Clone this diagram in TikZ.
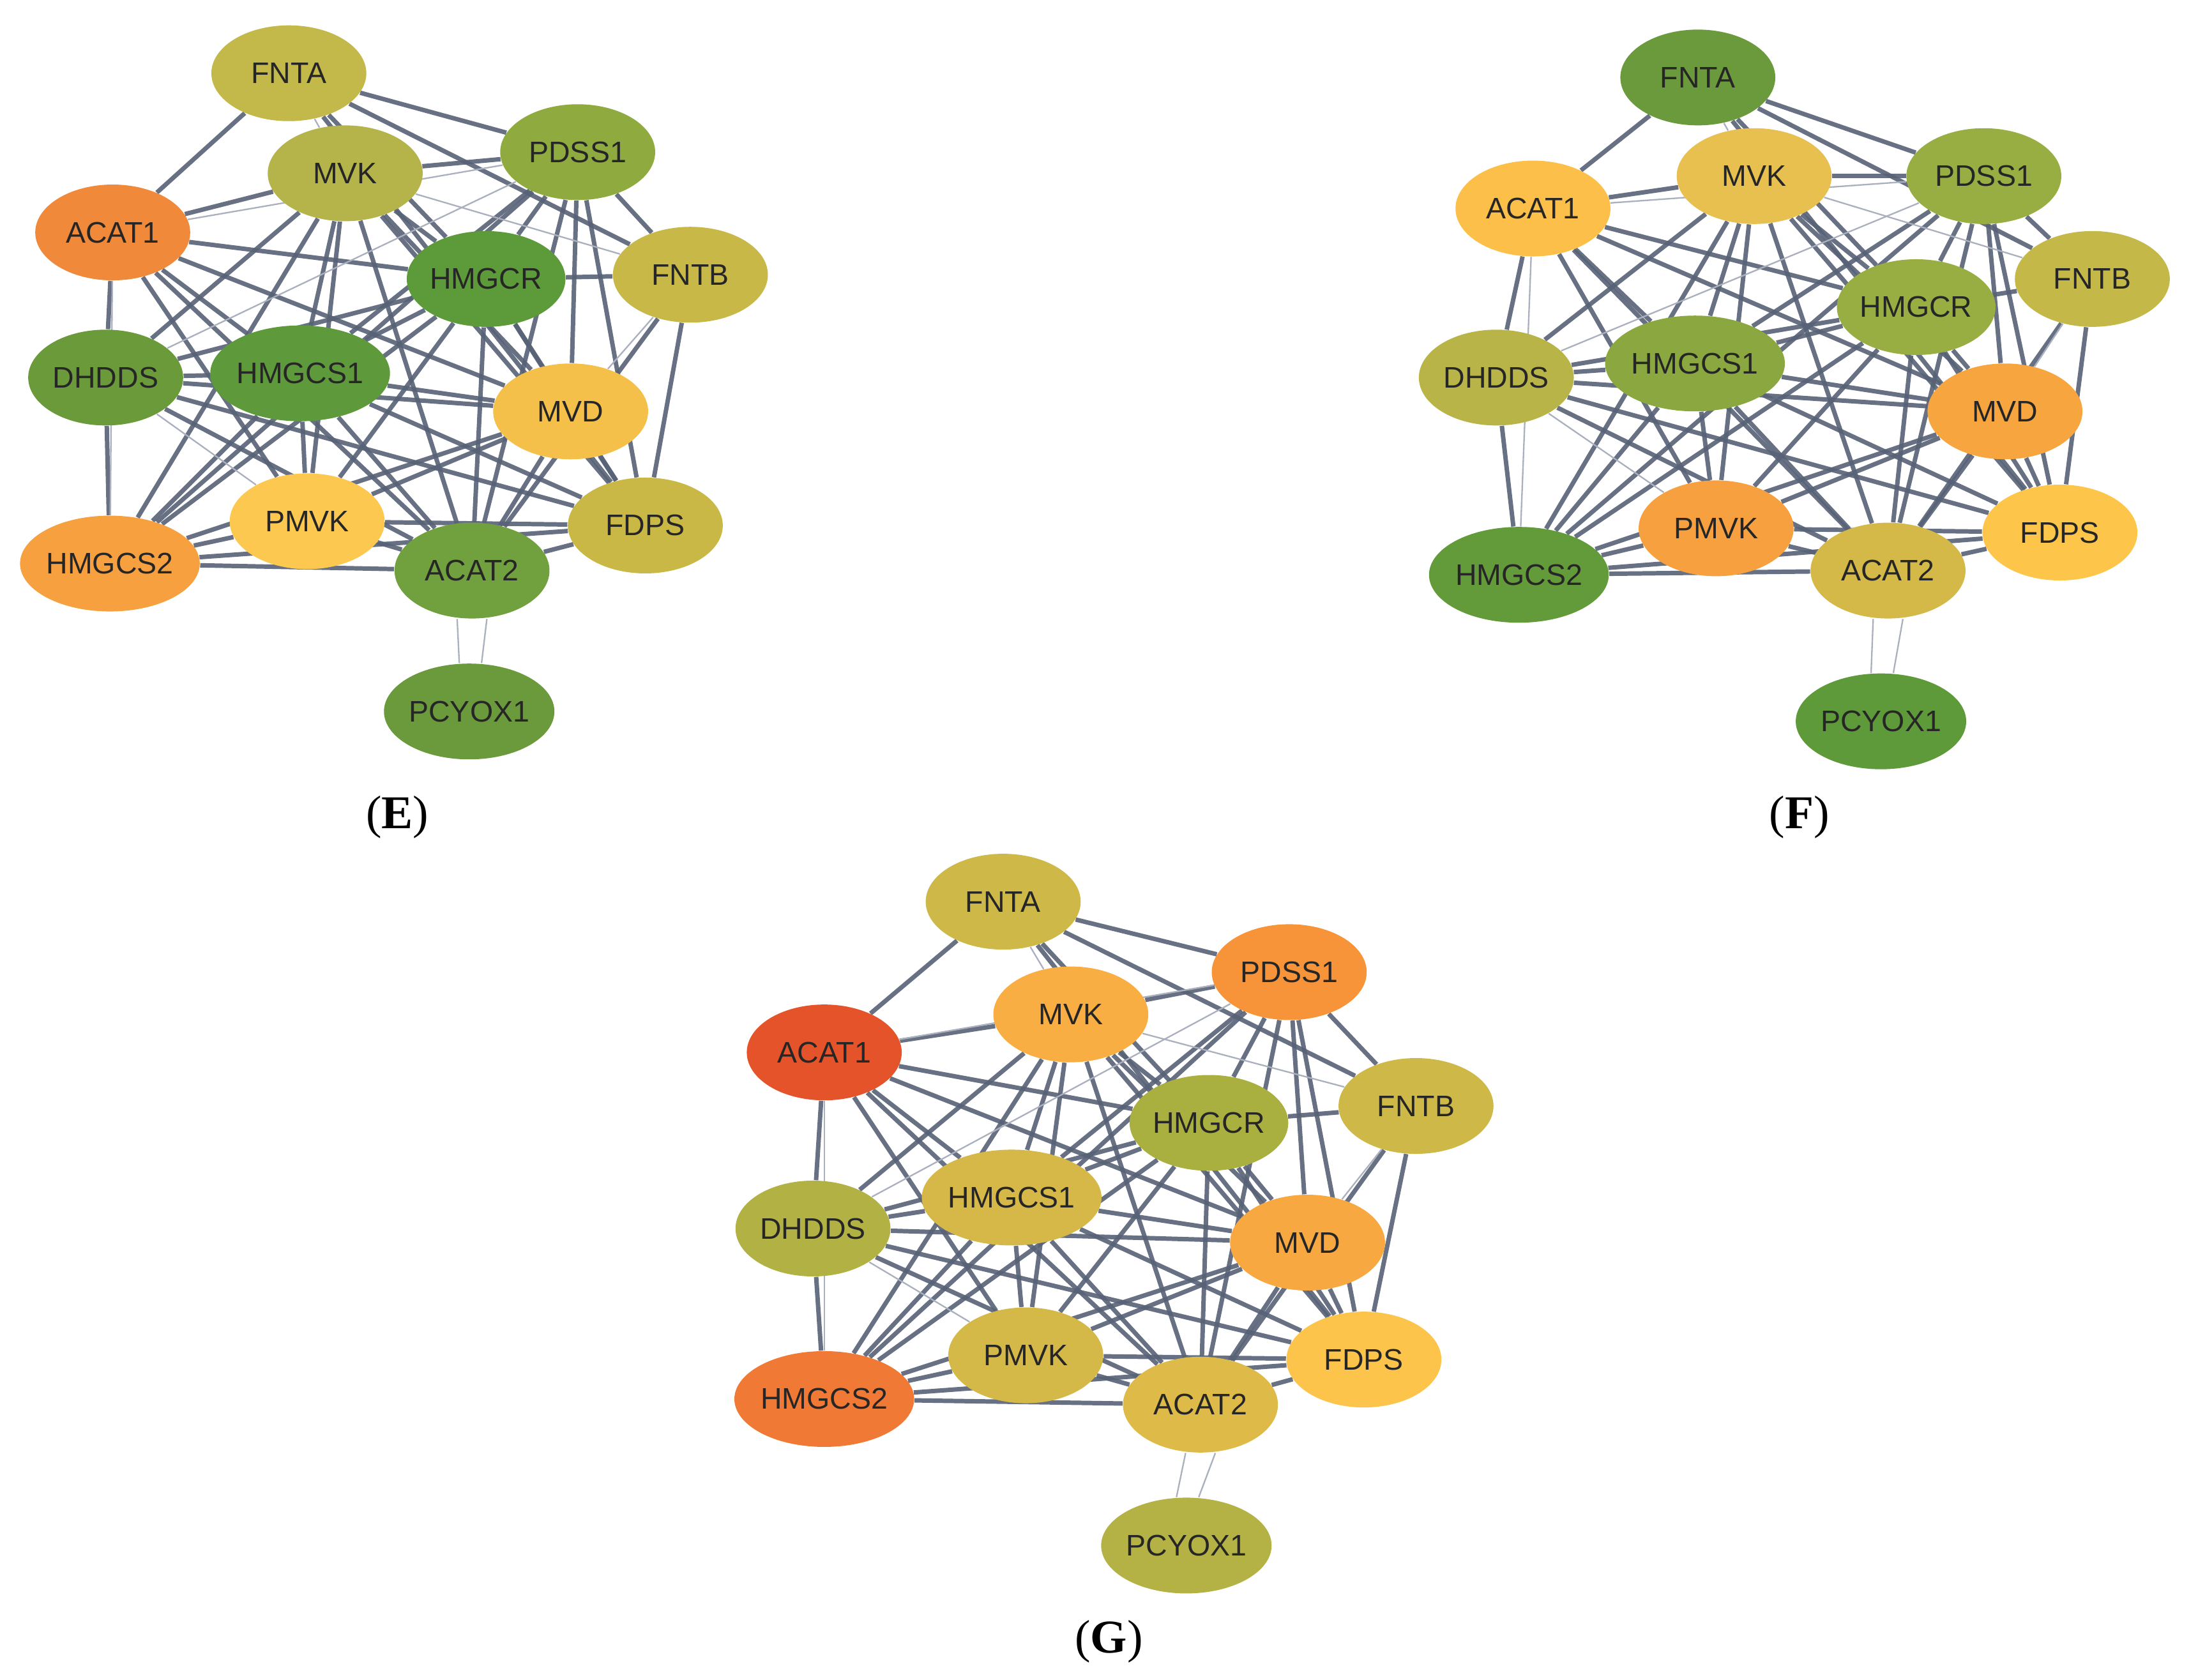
\documentclass[tikz,border=0pt]{standalone}
\usepackage{fontspec}
\setmainfont{Liberation Serif}
\newfontfamily\gsans{Liberation Sans}
\usetikzlibrary{shapes.geometric,backgrounds}
\definecolor{edgeT}{RGB}{88,98,118}
\definecolor{edgeN}{RGB}{170,176,190}
\tikzset{
 gn/.style={ellipse,draw=none,minimum width=2.2cm,minimum height=1.36cm,inner sep=0pt,font=\gsans\fontsize{12}{14}\selectfont,text=black!85},
 thk/.style={draw=edgeT,line width=1.8pt,opacity=0.9},
 thn/.style={draw=edgeN,line width=0.6pt},
 lab/.style={font=\fontsize{19}{22}\selectfont}
}
\newcommand{\netedges}[1]{%
 \begin{scope}[on background layer]
 \foreach \a/\b in {A/D,A/C,A/E,A/F,A/K,B/D,B/C,B/E,B/H,B/G,B/L,B/I,B/K,B/M,B/J,C/E,C/F,C/H,C/I,C/K,C/M,C/L,D/G,D/H,D/E,D/I,D/J,D/M,E/F,E/H,E/I,E/K,E/G,E/L,E/J,E/M,F/K,F/M,G/H,G/L,G/I,G/M,G/K,H/I,H/J,H/K,H/L,H/M,I/K,I/J,I/M,I/L,J/L,J/M,J/K,K/M,L/M,L/K}
  \draw[thk] (#1\a) -- (#1\b);
 \foreach \a/\b in {D/L,C/G,B/F,G/J,F/I,C/D,A/B}
  \draw[thn] (#1\a) -- (#1\b);
 \draw[thn] ([xshift=-4pt]#1N.north) -- ([xshift=-6pt]#1M.south);
 \draw[thn] ([xshift=5pt]#1N.north) -- ([xshift=6pt]#1M.south);
 \end{scope}}
\begin{document}
\begin{tikzpicture}[x=0.02cm,y=-0.02cm]
\useasboundingbox (0,0) rectangle (1560,1192);
% ---- E ----
\node[gn,fill={rgb,255:red,194;green,185;blue,74}] (EA) at (205,52) {FNTA};
\node[gn,fill={rgb,255:red,180;green,180;blue,74}] (EB) at (245,123) {MVK};
\node[gn,fill={rgb,255:red,143;green,170;blue,62}] (EC) at (410,108) {PDSS1};
\node[gn,fill={rgb,255:red,240;green,138;blue,58}] (ED) at (80,165) {ACAT1};
\node[gn,fill={rgb,255:red,93;green,154;blue,58}] (EE) at (345,198) {HMGCR};
\node[gn,fill={rgb,255:red,200;green,184;blue,72}] (EF) at (490,195) {FNTB};
\node[gn,fill={rgb,255:red,107;green,154;blue,58}] (EG) at (75,268) {DHDDS};
\node[gn,fill={rgb,255:red,94;green,154;blue,60}] (EH) at (213,265) {HMGCS1};
\node[gn,fill={rgb,255:red,245;green,192;blue,74}] (EI) at (405,292) {MVD};
\node[gn,fill={rgb,255:red,252;green,200;blue,80}] (EJ) at (218,370) {PMVK};
\node[gn,fill={rgb,255:red,201;green,184;blue,69}] (EK) at (458,373) {FDPS};
\node[gn,fill={rgb,255:red,247;green,160;blue,64}] (EL) at (78,400) {HMGCS2};
\node[gn,fill={rgb,255:red,113;green,160;blue,62}] (EM) at (335,405) {ACAT2};
\node[gn,fill={rgb,255:red,106;green,154;blue,60}] (EN) at (333,505) {PCYOX1};
\netedges{E}
\node[lab] (labE) at (282,580) {(\textbf{E})};
% ---- F ----
\node[gn,fill={rgb,255:red,107;green,154;blue,60}] (FA) at (1205,55) {FNTA};
\node[gn,fill={rgb,255:red,232;green,192;blue,80}] (FB) at (1245,125) {MVK};
\node[gn,fill={rgb,255:red,152;green,174;blue,66}] (FC) at (1408,125) {PDSS1};
\node[gn,fill={rgb,255:red,252;green,192;blue,74}] (FD) at (1088,148) {ACAT1};
\node[gn,fill={rgb,255:red,152;green,174;blue,66}] (FE) at (1360,218) {HMGCR};
\node[gn,fill={rgb,255:red,195;green,184;blue,72}] (FF) at (1485,198) {FNTB};
\node[gn,fill={rgb,255:red,184;green,180;blue,72}] (FG) at (1062,268) {DHDDS};
\node[gn,fill={rgb,255:red,138;green,168;blue,63}] (FH) at (1203,258) {HMGCS1};
\node[gn,fill={rgb,255:red,247;green,165;blue,63}] (FI) at (1423,292) {MVD};
\node[gn,fill={rgb,255:red,247;green,160;blue,64}] (FJ) at (1218,375) {PMVK};
\node[gn,fill={rgb,255:red,253;green,198;blue,74}] (FK) at (1462,378) {FDPS};
\node[gn,fill={rgb,255:red,99;green,154;blue,58}] (FL) at (1078,408) {HMGCS2};
\node[gn,fill={rgb,255:red,212;green,184;blue,72}] (FM) at (1340,405) {ACAT2};
\node[gn,fill={rgb,255:red,94;green,154;blue,58}] (FN) at (1335,512) {PCYOX1};
\netedges{F}
\node[lab] (labF) at (1277,580) {(\textbf{F})};
% ---- G ----
\node[gn,fill={rgb,255:red,205;green,184;blue,72}] (GA) at (712,640) {FNTA};
\node[gn,fill={rgb,255:red,248;green,174;blue,66}] (GB) at (760,720) {MVK};
\node[gn,fill={rgb,255:red,247;green,148;blue,58}] (GC) at (915,690) {PDSS1};
\node[gn,fill={rgb,255:red,229;green,83;blue,42}] (GD) at (585,747) {ACAT1};
\node[gn,fill={rgb,255:red,170;green,176;blue,64}] (GE) at (858,797) {HMGCR};
\node[gn,fill={rgb,255:red,205;green,184;blue,72}] (GF) at (1005,785) {FNTB};
\node[gn,fill={rgb,255:red,178;green,178;blue,68}] (GG) at (577,872) {DHDDS};
\node[gn,fill={rgb,255:red,214;green,184;blue,72}] (GH) at (718,850) {HMGCS1};
\node[gn,fill={rgb,255:red,248;green,168;blue,64}] (GI) at (928,882) {MVD};
\node[gn,fill={rgb,255:red,212;green,184;blue,72}] (GJ) at (728,962) {PMVK};
\node[gn,fill={rgb,255:red,252;green,196;blue,74}] (GK) at (968,965) {FDPS};
\node[gn,fill={rgb,255:red,240;green,122;blue,53}] (GL) at (585,993) {HMGCS2};
\node[gn,fill={rgb,255:red,222;green,186;blue,72}] (GM) at (852,997) {ACAT2};
\node[gn,fill={rgb,255:red,180;green,178;blue,68}] (GN) at (842,1097) {PCYOX1};
\netedges{G}
\node[lab] (labG) at (787,1165) {(\textbf{G})};
\end{tikzpicture}
\end{document}
